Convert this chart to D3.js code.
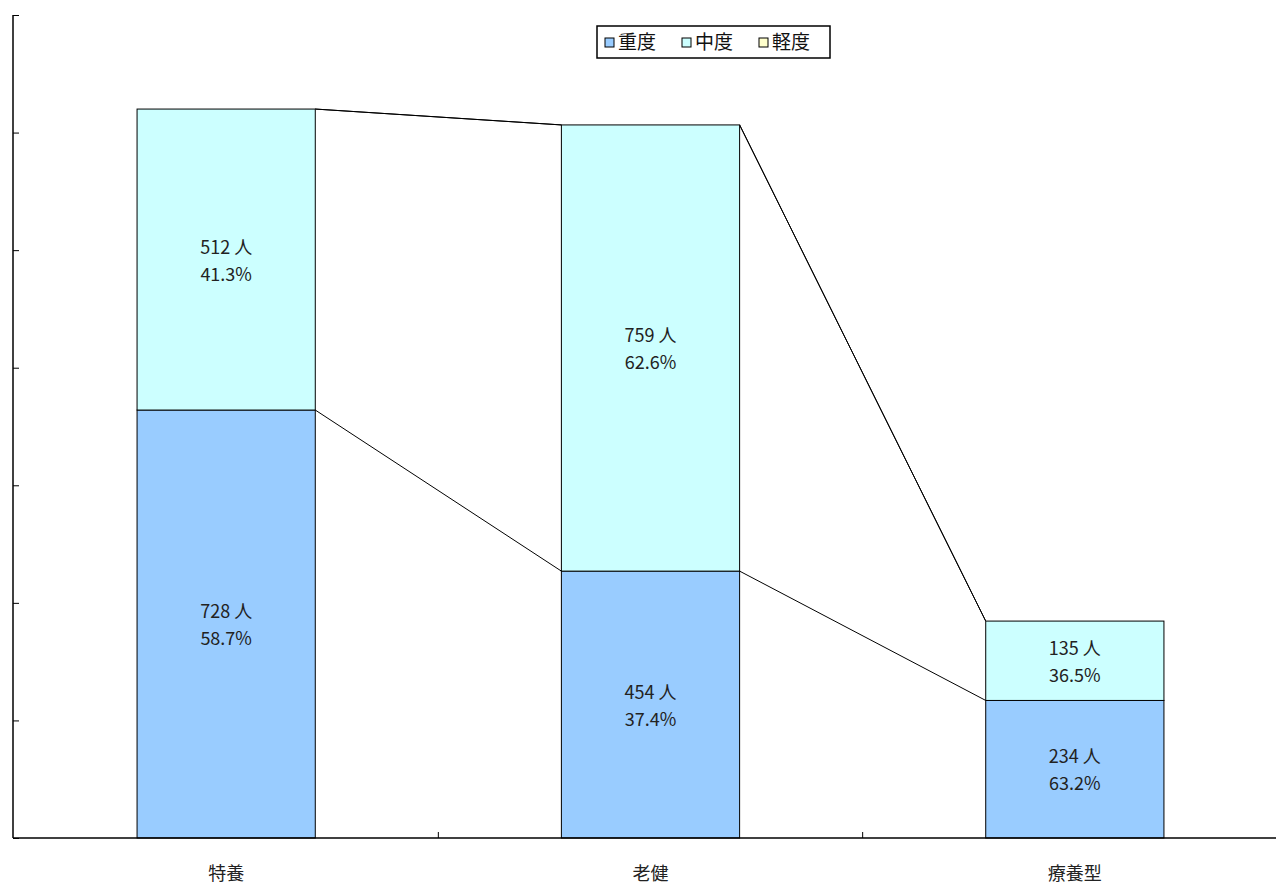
<!DOCTYPE html>
<meta charset="utf-8">
<script src="https://d3js.org/d3.v7.min.js"></script>
<style>
  body { margin: 0; background: #fff; }
  text { font-family: "Noto Sans CJK JP", sans-serif; }
</style>
<svg id="chart" width="1276" height="885"></svg>
<script>
// data
const categories = ["特養", "老健", "療養型"];
const seriesNames = ["重度", "中度", "軽度"];
const severe = [728, 454, 234];
const moderate = [512, 759, 135];
const mild = [0, 0, 0];
const severePct = ["58.7%", "37.4%", "63.2%"];
const moderatePct = ["41.3%", "62.6%", "36.5%"];
const yTicks = [0, 200, 400, 600, 800, 1000, 1200, 1400];

const colors = ["#99ccff", "#ccffff", "#ffffcc"];

const svg = d3.select("#chart");
const margin = {top: 15, left: 13, bottom: 47};
const plotRight = 1287;
const height = 885 - margin.bottom;

const rows = categories.map((c, i) => ({
  cat: c, 重度: severe[i], 中度: moderate[i], 軽度: mild[i],
  pct: [severePct[i], moderatePct[i], ""]
}));

const x = d3.scaleBand()
  .domain(categories)
  .range([margin.left + 1, plotRight])
  .paddingInner(0)
  .paddingOuter(0);

const y = d3.scaleLinear()
  .domain([0, 1400])
  .range([height, margin.top]);

const stack = d3.stack().keys(seriesNames)(rows);

const barW = x.bandwidth() * 0.42;
const bx = d => x(d.data.cat) + (x.bandwidth() - barW) / 2;

// series lines between bars
stack.forEach(layer => {
  for (let i = 0; i < layer.length - 1; i++) {
    const a = layer[i], b = layer[i + 1];
    svg.append("line")
      .attr("x1", bx(a) + barW).attr("y1", y(a[1]))
      .attr("x2", bx(b)).attr("y2", y(b[1]))
      .attr("stroke", "#000").attr("stroke-width", 1);
  }
});

// bars
stack.forEach((layer, k) => {
  svg.append("g")
    .selectAll("rect")
    .data(layer.filter(d => d[1] > d[0]))
    .join("rect")
      .attr("x", bx)
      .attr("y", d => y(d[1]))
      .attr("width", barW)
      .attr("height", d => y(d[0]) - y(d[1]))
      .attr("fill", colors[k])
      .attr("stroke", "#000")
      .attr("stroke-width", 1);
});

// value labels
stack.slice(0, 2).forEach((layer, k) => {
  const g = svg.append("g").attr("font-size", 18).attr("fill", "#222").attr("text-anchor", "middle");
  layer.forEach((d, i) => {
    const cx = bx(d) + barW / 2;
    const cy = (y(d[0]) + y(d[1])) / 2;
    g.append("text").attr("x", cx).attr("y", cy - 6).text((d[1] - d[0]) + " 人");
    g.append("text").attr("x", cx).attr("y", cy + 21).text(d.data.pct[k]);
  });
});

// y axis
svg.append("g")
  .attr("transform", `translate(${margin.left},0)`)
  .call(d3.axisRight(y).tickValues(yTicks).tickSize(6).tickFormat(""))
  .call(g => g.select(".domain").attr("d", `M0,${margin.top}V${height}`).attr("stroke-width", 1.5));

// x axis
const xTickPos = [x.range()[0] + x.bandwidth(), x.range()[0] + 2 * x.bandwidth()];
svg.append("line")
  .attr("x1", margin.left).attr("x2", plotRight)
  .attr("y1", height).attr("y2", height)
  .attr("stroke", "#000").attr("stroke-width", 1.5);
svg.append("g").selectAll("line")
  .data(xTickPos)
  .join("line")
    .attr("x1", d => d).attr("x2", d => d)
    .attr("y1", height).attr("y2", height - 6)
    .attr("stroke", "#000");
svg.append("g").selectAll("text")
  .data(categories)
  .join("text")
    .attr("x", d => x(d) + x.bandwidth() / 2)
    .attr("y", height + 42)
    .attr("text-anchor", "middle")
    .attr("font-size", 18)
    .attr("fill", "#222")
    .text(d => d);

// legend
const lg = svg.append("g").attr("transform", "translate(597,26)");
lg.append("rect").attr("width", 233).attr("height", 32)
  .attr("fill", "#fff").attr("stroke", "#000").attr("stroke-width", 1.5);
const itemX = [8, 85, 162];
seriesNames.forEach((n, i) => {
  lg.append("rect").attr("x", itemX[i]).attr("y", 12).attr("width", 9).attr("height", 9)
    .attr("fill", colors[i]).attr("stroke", "#000");
  lg.append("text").attr("x", itemX[i] + 13).attr("y", 23)
    .attr("font-size", 19).attr("fill", "#111").text(n);
});
</script>
